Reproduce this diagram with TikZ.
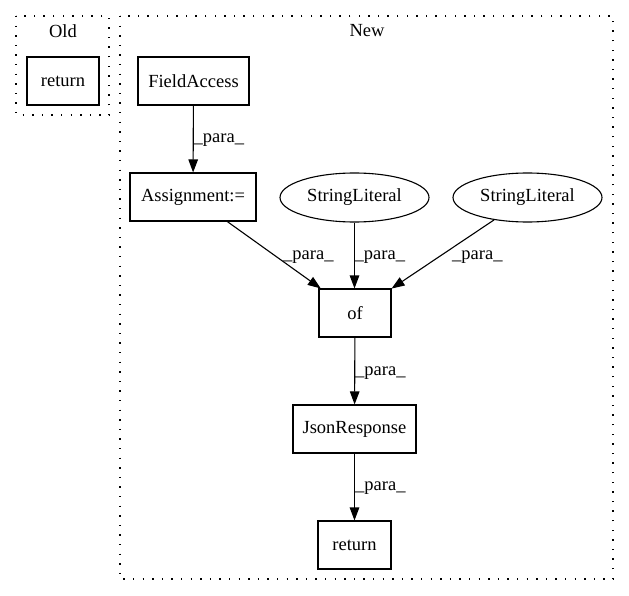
\documentclass[tikz,border=0pt]{standalone}
\usepackage{fontspec}
\setmainfont{Liberation Serif}
\usetikzlibrary{arrows.meta,shapes.geometric}
\begin{document}
\begin{tikzpicture}[x=1pt,y=-1pt,
  font=\fontsize{18.5}{22}\selectfont,
  box/.style={draw, line width=1.1pt, rectangle, inner sep=0pt, minimum height=48pt},
  oval/.style={draw, line width=1.1pt, ellipse, inner sep=0pt, minimum width=149pt, minimum height=49pt},
  cluster/.style={draw, line width=1.4pt, dash pattern=on 1.4pt off 8.2pt},
  edge/.style={draw, line width=1.1pt, -{Triangle[length=13pt,width=9.5pt]}},
  lab/.style={inner sep=0pt, anchor=west}]
\useasboundingbox (0,0) rectangle (629,596);
% clusters
\draw[cluster] (16,16) rectangle (109,115);
\draw[cluster] (120,16) rectangle (613,579);
\node (oldlab) at (63,31) {Old};
\node (newlab) at (367,31) {New};
% nodes
\node[box, minimum width=72pt] (oldret) at (63,81) {return};
\node[box, minimum width=111pt] (fa) at (193.5,81) {FieldAccess};
\node[box, minimum width=126pt] (asg) at (193,197) {Assignment:=};
\node[oval] (sl1) at (354.5,197.5) {StringLiteral};
\node[oval] (sl2) at (527.5,197.5) {StringLiteral};
\node[box, minimum width=72pt] (of) at (355,313) {of};
\node[box, minimum width=123pt] (jr) at (354.5,429) {JsonResponse};
\node[box, minimum width=73pt] (ret) at (354.5,545) {return};
% edges
\draw[edge] (fa) -- (asg);
\draw[edge] (asg) -- (of);
\draw[edge] (sl1.south) -- (of.north -| sl1.south);
\draw[edge] (sl2) -- (of);
\draw[edge] (of) -- (jr);
\draw[edge] (jr) -- (ret);
% labels
\node[lab] (l1) at (193.5,140) {\_para\_};
\node[lab] (l2) at (283,257) {\_para\_};
\node[lab] (l3) at (354.5,257) {\_para\_};
\node[lab] (l4) at (452,257) {\_para\_};
\node[lab] (l5) at (355,373) {\_para\_};
\node[lab] (l6) at (355,488) {\_para\_};
\end{tikzpicture}
\end{document}
